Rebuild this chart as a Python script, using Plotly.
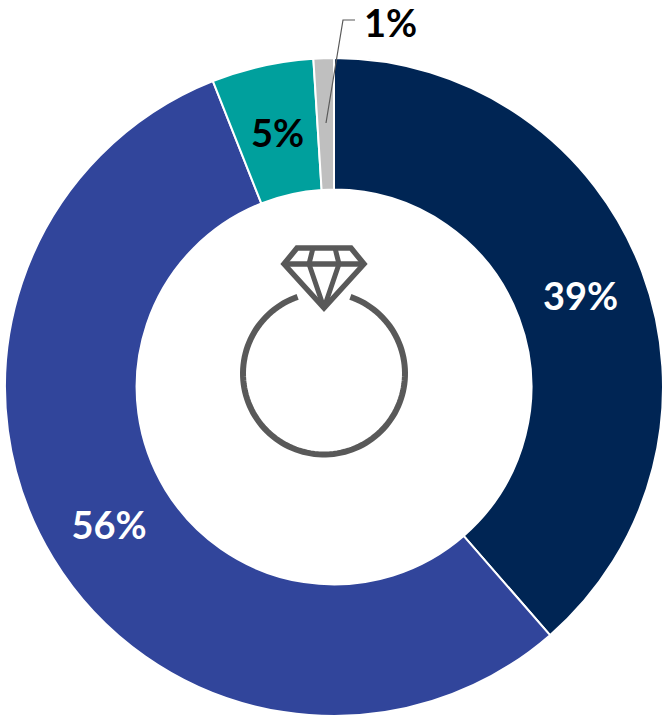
import numpy as np
import plotly.graph_objects as go

W, H = 664, 716
slice_names = ["Navy", "Blue", "Teal", "Gray"]
slice_values = [38.6, 55.4, 5.0, 1.0]
slice_labels = ["39%", "56%", "", ""]
slice_colors = ["#002554", "#31459B", "#00A09D", "#BFBFBF"]
label_colors = ["#FFFFFF", "#FFFFFF", "#000000", "#000000"]
teal_label = "5%"
small_label = "1%"
ICON = "#595959"


def px(x, y):
    return x / W, 1 - y / H


def path(points, close=False):
    parts = []
    for i, (x, y) in enumerate(points):
        a, b = px(x, y)
        parts.append(f"{'M' if i == 0 else 'L'}{a:.5f},{b:.5f}")
    return " ".join(parts) + (" Z" if close else "")


def stroke(points, width, color=ICON, close=False):
    return dict(type="path", xref="paper", yref="paper", path=path(points, close),
                line=dict(color=color, width=width), layer="above")


def note(text, x, y):
    a, b = px(x, y)
    return dict(text=f"<b>{text}</b>", xref="paper", yref="paper", x=a, y=b,
                showarrow=False, xanchor="center", yanchor="middle",
                font=dict(family="Lato", size=38, color="#000000"))


fig = go.Figure(go.Pie(
    labels=slice_names, values=slice_values, text=slice_labels,
    textinfo="text", textposition="inside", insidetextorientation="horizontal",
    insidetextfont=dict(family="Lato", size=38, color=label_colors, weight="bold"),
    marker=dict(colors=slice_colors, line=dict(color="#FFFFFF", width=2)),
    hole=0.6, sort=False, direction="clockwise", rotation=0, showlegend=False,
    domain=dict(x=[5 / W, 663 / W], y=[0, 1 - 58 / H]),
))

# Ring icon
cx, cy, r = 324, 373.5, 81
t = np.radians(np.linspace(19, 341, 120))
ring = [(cx + r * np.sin(a), cy - r * np.cos(a)) for a in t]
shapes = [stroke(ring, 6)]
# Diamond icon
shapes.append(stroke([(297, 248), (351, 248), (364, 264), (324, 308), (284, 264)], 5.5, close=True))
shapes.append(stroke([(284, 264), (364, 264)], 5.5))
shapes.append(stroke([(313, 248), (309, 264), (324, 308)], 5))
shapes.append(stroke([(335, 248), (339, 264), (324, 308)], 5))
# Leader line
shapes.append(stroke([(326, 123), (343, 20), (355, 20)], 1.2, color="#595959"))

fig.update_layout(
    width=W, height=H, margin=dict(l=0, r=0, t=0, b=0),
    paper_bgcolor="#FFFFFF", shapes=shapes,
    annotations=[note(small_label, 390, 22), note(teal_label, 277, 132)],
)
fig.write_html("out.html", config=dict(displayModeBar=False),
               post_script="document.body.style.margin='0';document.body.style.overflow='hidden';")
